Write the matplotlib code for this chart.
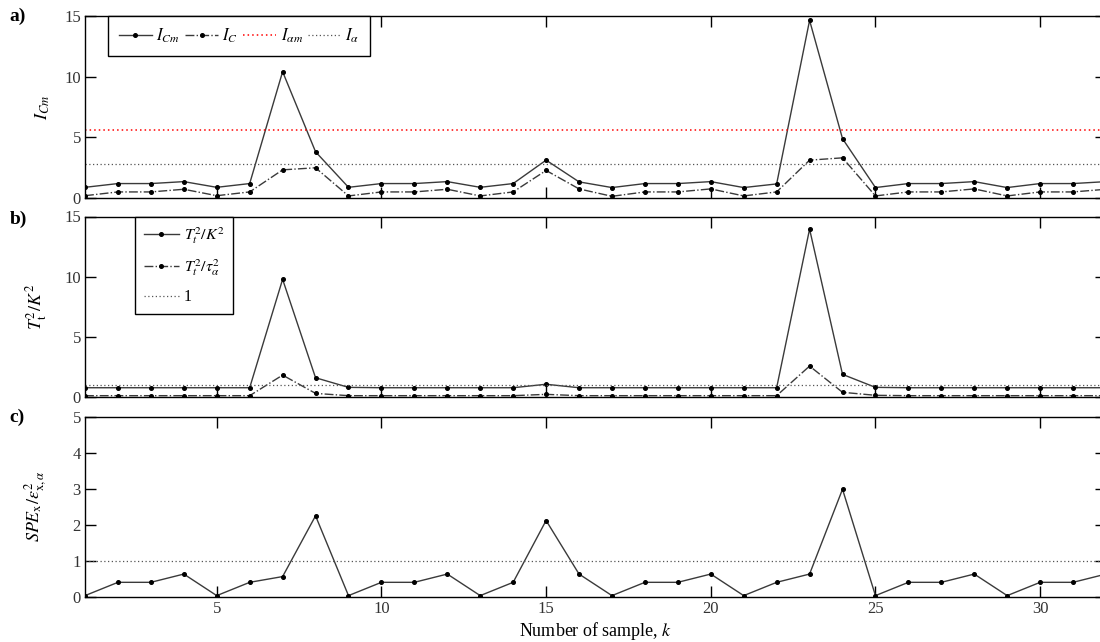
import numpy as np
import matplotlib
matplotlib.use("Agg")
import matplotlib.pyplot as plt

plt.rcParams["font.family"] = ["Liberation Serif", "DejaVu Serif"]
plt.rcParams["mathtext.fontset"] = "stix"

# Sample index
k = np.arange(1, 33)

# a) detection indices
I_Cm = [0.88, 1.19, 1.19, 1.35, 0.88, 1.19, 10.41, 3.81,
        0.88, 1.19, 1.19, 1.35, 0.88, 1.19, 3.12, 1.33,
        0.86, 1.19, 1.19, 1.35, 0.86, 1.16, 14.64, 4.89,
        0.86, 1.19, 1.19, 1.35, 0.86, 1.19, 1.19, 1.35]
I_C = [0.19, 0.50, 0.50, 0.72, 0.19, 0.50, 2.32, 2.49,
       0.17, 0.50, 0.50, 0.72, 0.17, 0.50, 2.27, 0.75,
       0.14, 0.50, 0.50, 0.75, 0.17, 0.50, 3.12, 3.31,
       0.17, 0.50, 0.50, 0.75, 0.17, 0.50, 0.50, 0.72]
I_alpha_m = 5.58
I_alpha = 2.82

# b) normalised T^2 statistics
T2_K2 = [0.77, 0.77, 0.77, 0.77, 0.77, 0.77, 9.78, 1.60,
         0.80, 0.77, 0.77, 0.77, 0.77, 0.77, 1.06, 0.77,
         0.77, 0.77, 0.77, 0.77, 0.77, 0.77, 13.95, 1.88,
         0.80, 0.77, 0.77, 0.77, 0.77, 0.77, 0.77, 0.77]
T2_tau2 = [0.11, 0.11, 0.11, 0.11, 0.11, 0.11, 1.82, 0.30,
           0.11, 0.11, 0.11, 0.11, 0.11, 0.11, 0.22, 0.11,
           0.11, 0.11, 0.11, 0.11, 0.11, 0.11, 2.57, 0.39,
           0.14, 0.11, 0.11, 0.11, 0.11, 0.11, 0.11, 0.11]
T2_limit = 1.0

# c) normalised SPE
SPE = [0.03, 0.40, 0.40, 0.63, 0.03, 0.40, 0.56, 2.25,
       0.03, 0.40, 0.40, 0.63, 0.03, 0.40, 2.12, 0.63,
       0.03, 0.40, 0.40, 0.63, 0.03, 0.40, 0.63, 2.99,
       0.03, 0.40, 0.40, 0.63, 0.03, 0.40, 0.40, 0.63]
SPE_limit = 1.0

x_ticks = [5, 10, 15, 20, 25, 30]

W, H = 1100, 642
fig = plt.figure(figsize=(W / 100, H / 100), dpi=100)

left = 85 / W
width = 1021 / W


def make_axes(top_px, bottom_px):
    return fig.add_axes([left, 1 - bottom_px / H, width, (bottom_px - top_px) / H])


ax_a = make_axes(16, 198)
ax_b = make_axes(216.5, 397)
ax_c = make_axes(417, 596.7)

line_col = "#3a3a3a"
mk = dict(marker="o", markersize=2.6, markerfacecolor="black", markeredgecolor="black")

# a)
ax_a.plot(k, I_Cm, "-", color=line_col, lw=1.0, label=r"$I_{Cm}$", **mk)
ax_a.plot(k, I_C, "-.", color=line_col, lw=1.0, label=r"$I_{C}$", **mk)
ax_a.axhline(I_alpha_m, color="red", ls=(0, (1, 2)), lw=1.1, label=r"$I_{\alpha m}$")
ax_a.axhline(I_alpha, color="#555555", ls=(0, (1, 2)), lw=0.9, label=r"$I_{\alpha}$")
ax_a.set_ylim(0, 15)
ax_a.set_yticks([0, 5, 10, 15])
ax_a.set_ylabel(r"$I_{Cm}$", fontsize=13)
ax_a.yaxis.set_label_coords(-0.032, 0.5)
leg_a = ax_a.legend(loc="upper left", bbox_to_anchor=(0.0225, 1.0), ncol=4,
                    fontsize=12, handlelength=2.0, handletextpad=0.25,
                    columnspacing=0.3, borderpad=0.65, borderaxespad=0.0,
                    fancybox=False, framealpha=1, edgecolor="black")
leg_a.get_frame().set_linewidth(1.0)

# b)
ax_b.plot(k, T2_K2, "-", color=line_col, lw=1.0, label=r"$T_t^2/K^2$", **mk)
ax_b.plot(k, T2_tau2, "-.", color=line_col, lw=1.0, label=r"$T_t^2/\tau_{\alpha}^2$", **mk)
ax_b.axhline(T2_limit, color="#555555", ls=(0, (1, 2)), lw=0.9, label="1")
ax_b.set_ylim(0, 15)
ax_b.set_yticks([0, 5, 10, 15])
ax_b.set_ylabel(r"$T_{\mathrm{t}}^2/K^2$", fontsize=13)
ax_b.yaxis.set_label_coords(-0.035, 0.5)
leg_b = ax_b.legend(loc="upper left", bbox_to_anchor=(0.0490, 1.0), ncol=1,
                    fontsize=11.5, handlelength=2.2, handletextpad=0.3,
                    labelspacing=0.7, borderpad=0.55, borderaxespad=0.0,
                    fancybox=False, framealpha=1, edgecolor="black")
leg_b.get_frame().set_linewidth(1.0)

# c)
ax_c.plot(k, SPE, "-", color=line_col, lw=1.0, **mk)
ax_c.axhline(SPE_limit, color="#555555", ls=(0, (1, 2)), lw=0.9)
ax_c.set_ylim(0, 5)
ax_c.set_yticks([0, 1, 2, 3, 4, 5])
ax_c.set_ylabel(r"$SPE_{\mathrm{x}}/\varepsilon^2_{\mathrm{x},\alpha}$", fontsize=13)
ax_c.yaxis.set_label_coords(-0.035, 0.5)
ax_c.set_xlabel(r"Number of sample, $k$", fontsize=13, labelpad=2)

for ax in (ax_a, ax_b, ax_c):
    ax.set_xlim(1, 32)
    ax.set_xticks(x_ticks)
    ax.tick_params(direction="in", top=True, right=True, length=8, width=1.0,
                   labelsize=12, labelcolor="#333333", pad=3)
    for s in ax.spines.values():
        s.set_linewidth(1.0)
for ax in (ax_a, ax_b):
    ax.tick_params(labelbottom=False)

fig.text(18 / W, 1 - 16 / H, "a)", fontsize=14, fontweight="bold", ha="center", va="center")
fig.text(18 / W, 1 - 219 / H, "b)", fontsize=14, fontweight="bold", ha="center", va="center")
fig.text(17 / W, 1 - 417 / H, "c)", fontsize=14, fontweight="bold", ha="center", va="center")

fig.savefig("out.png", dpi=100)
